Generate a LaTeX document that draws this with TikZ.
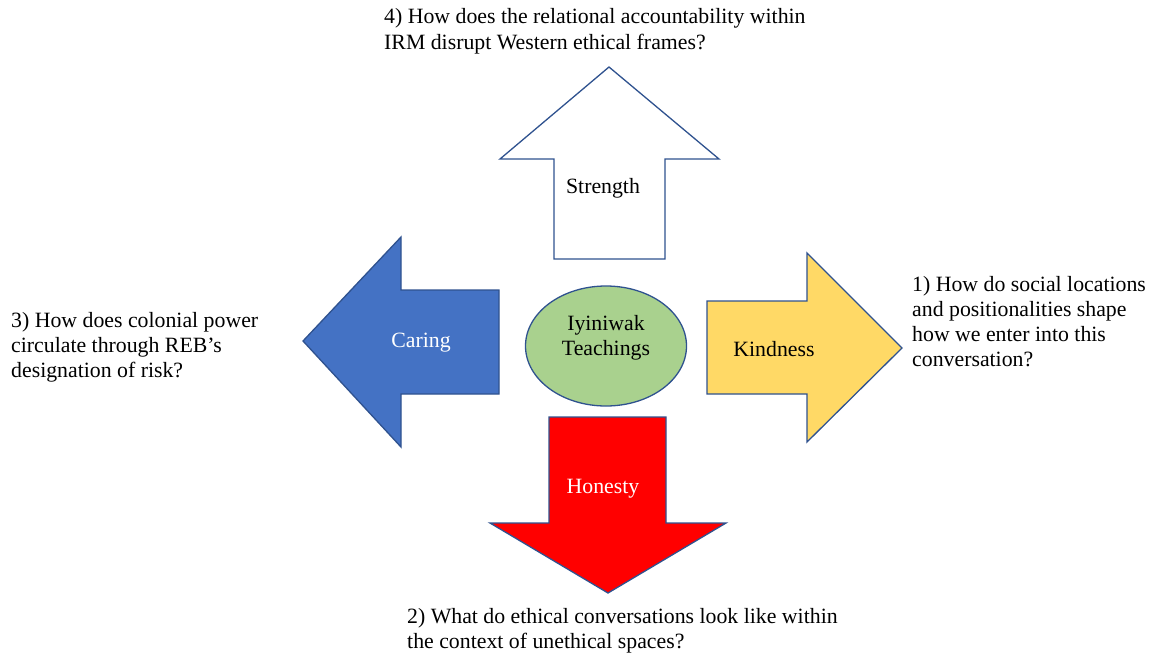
\documentclass[tikz,border=0pt]{standalone}
\usepackage{fontspec}
\setmainfont{Liberation Serif}
\usetikzlibrary{shapes.geometric}
\definecolor{edgeblue}{HTML}{2F528F}
\definecolor{caringblue}{HTML}{4472C4}
\definecolor{kindyellow}{HTML}{FFD966}
\definecolor{honestred}{HTML}{FF0000}
\definecolor{teachgreen}{HTML}{A9D18E}

\begin{document}
\begin{tikzpicture}[x=1pt,y=-1pt,
  every node/.style={font=\fontsize{21.8}{25}\selectfont},
  bigarrow/.style={draw=edgeblue,line width=1.3pt,line join=miter},
  question/.style={align=left,anchor=north west,inner sep=0pt}]
\useasboundingbox (0,0) rectangle (1151,654);
% the four arrows
\draw[bigarrow,fill=white] (609,67) -- (719,159) -- (665,159) -- (665,259) -- (554,259) -- (554,159) -- (500,159) -- cycle;
\draw[bigarrow,fill=caringblue] (303,341) -- (401,237) -- (401,290) -- (499,290) -- (499,394) -- (401,394) -- (401,447) -- cycle;
\draw[bigarrow,fill=kindyellow] (902,348) -- (807,253) -- (807,301) -- (707,301) -- (707,394) -- (807,394) -- (807,442) -- cycle;
\draw[bigarrow,fill=honestred] (608,593) -- (726,523) -- (666,523) -- (666,417) -- (549,417) -- (549,523) -- (490,523) -- cycle;
% center
\node[ellipse,draw=edgeblue,line width=1.3pt,fill=teachgreen,minimum width=161pt,minimum height=120pt] (teachings) at (606,346) {};
\node[align=center] (teachtext) at (606,338) {Iyiniwak\\Teachings};
\node (strength) at (603,188) {Strength};
\node[text=white] (caring) at (421,343) {Caring};
\node (kindness) at (774,349) {Kindness};
\node[text=white] (honesty) at (603,489) {Honesty};
% questions
\node[question] (q4) at (384,8) {4) How does the relational accountability within\\[1pt]IRM disrupt Western ethical frames?};
\node[question] (q1) at (912,276) {1) How do social locations\\and positionalities shape\\how we enter into this\\conversation?};
\node[question] (q3) at (11,312) {3) How does colonial power\\circulate through REB's\\designation of risk?};
\node[question] (q2) at (407,608) {2) What do ethical conversations look like within\\the context of unethical spaces?};
\end{tikzpicture}
\end{document}
